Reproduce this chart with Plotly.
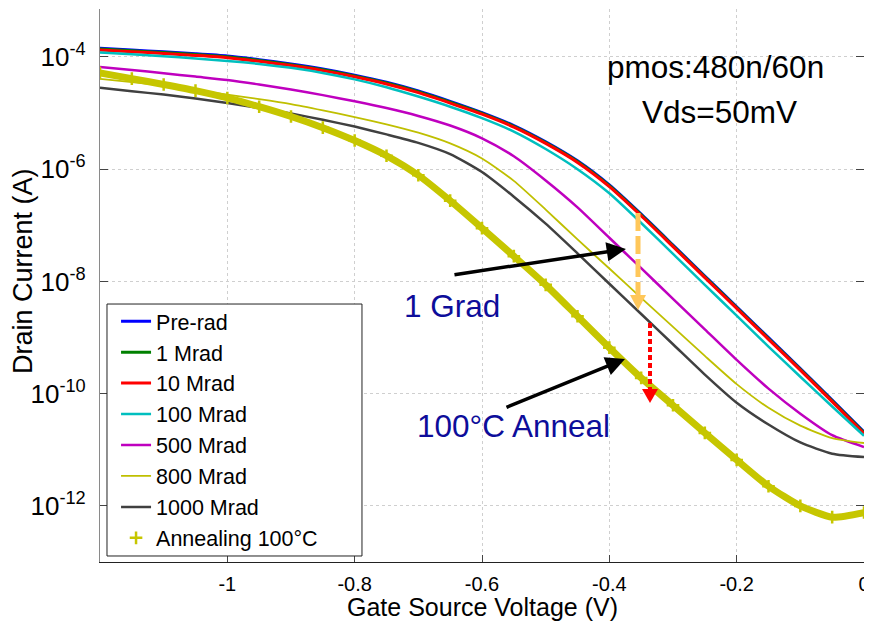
import plotly.graph_objects as go

# ---- data ----
vgs = [-1.20, -1.15, -1.10, -1.05, -1.00, -0.95, -0.90, -0.85, -0.80, -0.75, -0.70, -0.65,
       -0.60, -0.55, -0.50, -0.45, -0.40, -0.35, -0.30, -0.25, -0.20, -0.15, -0.10, -0.05, 0.00]

pre_rad = [1.427e-4, 1.332e-4, 1.237e-4, 1.142e-4, 1.041e-4, 8.95e-5, 7.52e-5, 6.11e-5, 4.75e-5, 3.54e-5,
           2.48e-5, 1.62e-5, 1.02e-5, 6.01e-6, 3.08e-6, 1.41e-6, 5.24e-7, 1.58e-7, 4.46e-8, 1.25e-8,
           3.54e-9, 9.95e-10, 2.81e-10, 7.7e-11, 2.09e-11]
mrad_1 = [1.381e-4, 1.289e-4, 1.196e-4, 1.104e-4, 1.007e-4, 8.65e-5, 7.28e-5, 5.91e-5, 4.60e-5, 3.43e-5,
          2.40e-5, 1.56e-5, 9.88e-6, 5.82e-6, 2.98e-6, 1.37e-6, 5.07e-7, 1.53e-7, 4.32e-8, 1.21e-8,
          3.43e-9, 9.6e-10, 2.72e-10, 7.45e-11, 2.02e-11]
mrad_10 = [1.334e-4, 1.245e-4, 1.156e-4, 1.067e-4, 9.73e-5, 8.36e-5, 7.03e-5, 5.71e-5, 4.44e-5, 3.31e-5,
           2.32e-5, 1.51e-5, 9.55e-6, 5.62e-6, 2.88e-6, 1.32e-6, 4.9e-7, 1.48e-7, 4.17e-8, 1.17e-8,
           3.31e-9, 9.3e-10, 2.63e-10, 7.2e-11, 1.95e-11]
mrad_100 = [1.202e-4, 1.114e-4, 1.028e-4, 9.42e-5, 8.51e-5, 7.52e-5, 6.40e-5, 5.20e-5, 3.99e-5, 2.89e-5,
            1.97e-5, 1.30e-5, 8.13e-6, 4.68e-6, 2.29e-6, 1.0e-6, 3.72e-7, 1.10e-7, 3.09e-8, 8.7e-9,
            2.45e-9, 6.9e-10, 2.0e-10, 5.9e-11, 1.78e-11]
mrad_500 = [6.61e-5, 5.89e-5, 5.13e-5, 4.47e-5, 3.89e-5, 3.24e-5, 2.63e-5, 2.09e-5, 1.62e-5, 1.23e-5,
            8.9e-6, 6.0e-6, 3.55e-6, 1.70e-6, 6.3e-7, 2.09e-7, 6.0e-8, 1.72e-8, 4.9e-9, 1.40e-9,
            4.0e-10, 1.23e-10, 4.4e-11, 1.82e-11, 1.12e-11]
mrad_800 = [4.07e-5, 3.55e-5, 3.09e-5, 2.57e-5, 2.14e-5, 1.78e-5, 1.45e-5, 1.12e-5, 8.5e-6, 6.3e-6,
            4.47e-6, 2.88e-6, 1.55e-6, 6.2e-7, 1.91e-7, 5.6e-8, 1.70e-8, 5.1e-9, 1.55e-9, 4.7e-10,
            1.48e-10, 5.6e-11, 2.69e-11, 1.62e-11, 1.32e-11]
mrad_1000 = [2.82e-5, 2.45e-5, 2.14e-5, 1.82e-5, 1.51e-5, 1.23e-5, 9.8e-6, 7.6e-6, 5.75e-6, 4.17e-6,
             2.95e-6, 1.86e-6, 8.9e-7, 3.24e-7, 1.07e-7, 3.16e-8, 9.1e-9, 2.63e-9, 7.6e-10, 2.19e-10,
             6.9e-11, 2.82e-11, 1.35e-11, 8.5e-12, 7.4e-12]
anneal_100c = [5.19e-5, 4.12e-5, 3.24e-5, 2.51e-5, 1.86e-5, 1.30e-5, 8.7e-6, 5.5e-6, 3.24e-6, 1.74e-6,
               7.8e-7, 2.75e-7, 8.9e-8, 2.82e-8, 8.7e-9, 2.40e-9, 6.6e-10, 1.91e-10, 6.2e-11, 2.0e-11,
               6.6e-12, 2.24e-12, 1.0e-12, 6.3e-13, 7.6e-13]

series_names = ["Pre-rad", "1 Mrad", "10 Mrad", "100 Mrad", "500 Mrad", "800 Mrad", "1000 Mrad"]
series_values = [pre_rad, mrad_1, mrad_10, mrad_100, mrad_500, mrad_800, mrad_1000]
series_colors = ["#0000FF", "#008000", "#FF0000", "#00BFBF", "#BF00BF", "#BFBF00", "#404040"]
series_widths = [3, 3, 3, 2.5, 2.5, 1.8, 2.5]
anneal_name = "Annealing 100°C"
anneal_color = "#C6C600"

x_tickvals = [-1, -0.8, -0.6, -0.4, -0.2, 0]
x_ticktext = ["-1", "-0.8", "-0.6", "-0.4", "-0.2", "0"]
y_tickvals = [1e-12, 1e-10, 1e-8, 1e-6, 1e-4]
y_ticktext = ["10<sup>-12</sup>", "10<sup>-10</sup>", "10<sup>-8</sup>", "10<sup>-6</sup>", "10<sup>-4</sup>"]
x_title = "Gate Source Voltage (V)"
y_title = "Drain Current (A)"

FONT = "Arial, Liberation Sans, sans-serif"

fig = go.Figure()
for name, vals, col, w in zip(series_names, series_values, series_colors, series_widths):
    fig.add_trace(go.Scatter(x=vgs, y=vals, name=name, mode="lines",
                             line=dict(color=col, width=w, shape="spline", smoothing=0.6)))

fig.add_trace(go.Scatter(x=vgs, y=anneal_100c, mode="lines", showlegend=False, hoverinfo="skip",
                         line=dict(color=anneal_color, width=7, shape="spline", smoothing=0.6)))
fig.add_trace(go.Scatter(x=vgs, y=anneal_100c, name=anneal_name, mode="markers",
                         marker=dict(symbol="cross-thin", size=9, color=anneal_color,
                                     line=dict(color=anneal_color, width=2.5))))

# ---- annotations (texts & arrows) ----
txt_blue = "#0D0D9A"
annos = [
    dict(x=-0.2325, y=-4.178, text="pmos:480n/60n", font=dict(size=31.5, color="black", family=FONT)),
    dict(x=-0.2262, y=-4.98, text="Vds=50mV", font=dict(size=31.5, color="black", family=FONT)),
    dict(x=-0.6472, y=-8.437, text="1 Grad", font=dict(size=31.5, color=txt_blue, family=FONT)),
    dict(x=-0.5513, y=-10.575, text="100°C Anneal", font=dict(size=31.5, color=txt_blue, family=FONT)),
]
for a in annos:
    fig.add_annotation(xref="x", yref="y", showarrow=False, xanchor="center", yanchor="middle", **a)

# axis titles as paper annotations (exact placement)
fig.add_annotation(xref="paper", yref="paper", x=0.5, y=-0.0814, text=x_title, showarrow=False,
                   xanchor="center", yanchor="middle",
                   font=dict(size=25, family=FONT, color="black"))
fig.add_annotation(xref="paper", yref="paper", x=-0.1008, y=0.526, text=y_title, showarrow=False,
                   xanchor="center", yanchor="middle", textangle=-90,
                   font=dict(size=27, family=FONT, color="black"))

for tip, tail in [((-0.3739, -7.421), (-0.6456, -7.884)), ((-0.3754, -9.381), (-0.5639, -10.254))]:
    fig.add_annotation(x=tip[0], y=tip[1], ax=tail[0], ay=tail[1], xref="x", yref="y",
                       axref="x", ayref="y", text="", showarrow=True, arrowhead=2,
                       arrowsize=1.1, arrowwidth=3.5, arrowcolor="black")

shapes = []
# legend frame (wider than plotly's automatic legend box)
shapes.append(dict(type="rect", xref="paper", yref="paper", x0=0.00916, x1=0.3429, y0=0.01085, y1=0.4665,
                   fillcolor="white", line=dict(color="#222222", width=1), layer="above"))
# orange dashed arrow (paper coordinates)
shapes.append(dict(type="line", xref="paper", yref="paper", x0=0.7042, x1=0.7042, y0=0.6311, y1=0.4810,
                   line=dict(color="#FFC75A", width=5, dash="18px,5px")))
shapes.append(dict(type="path", xref="paper", yref="paper", xsizemode="pixel", ysizemode="pixel",
                   xanchor=0.7042, yanchor=0.4557, path="M -8,15 L 8,15 L 0,0 Z",
                   fillcolor="#FFC75A", line=dict(width=0)))
# red dotted arrow
shapes.append(dict(type="line", xref="paper", yref="paper", x0=0.7199, x1=0.7199, y0=0.4322, y1=0.3110,
                   line=dict(color="#FF0000", width=4, dash="5px,3px")))
shapes.append(dict(type="path", xref="paper", yref="paper", xsizemode="pixel", ysizemode="pixel",
                   xanchor=0.7199, yanchor=0.2875, path="M -8,14 L 8,14 L 0,0 Z",
                   fillcolor="#FF0000", line=dict(width=0)))

# the page body has an 8px margin, so the figure is 864x613 and offset by 8px
fig.update_layout(
    width=864, height=613,
    margin=dict(l=92, r=8, t=1, b=59),
    paper_bgcolor="white", plot_bgcolor="white",
    font=dict(family=FONT, color="black"),
    shapes=shapes,
    legend=dict(x=0.021, y=0.4725, xanchor="left", yanchor="top",
                bgcolor="rgba(0,0,0,0)", borderwidth=0,
                font=dict(size=21.5, family=FONT, color="black"), itemwidth=30,
                tracegroupgap=0),
    xaxis=dict(range=[-1.2, 0], tickvals=x_tickvals, ticktext=x_ticktext, automargin=False,
               tickfont=dict(size=20, family=FONT, color="black"),
               showline=True, linecolor="#222222", linewidth=1.2, mirror=False,
               ticks="inside", ticklen=7, tickcolor="#444444",
               showgrid=True, gridcolor="#CFCFCF", griddash="dot", gridwidth=1,
               zeroline=False, ticklabelstandoff=4),
    yaxis=dict(type="log", range=[-13, -3.145], tickvals=y_tickvals, ticktext=y_ticktext,
               automargin=False,
               tickfont=dict(size=26, family=FONT, color="black"),
               showline=True, linecolor="#8A8A8A", linewidth=1.2, mirror="ticks",
               ticks="inside", ticklen=8, tickcolor="#444444",
               showgrid=True, gridcolor="#CFCFCF", griddash="dot", gridwidth=1,
               zeroline=False, ticklabelstandoff=8),
)

fig.write_html("out.html")
